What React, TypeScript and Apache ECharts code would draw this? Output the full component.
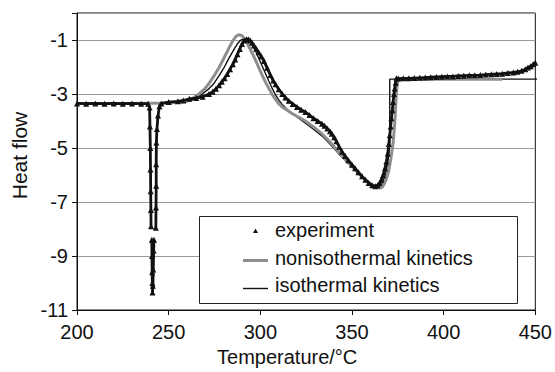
import React, { useEffect, useRef } from 'react';
import * as echarts from 'echarts';

// ---- data ----
const expT = [
  200, 205, 210, 215, 220, 225, 230, 235, 238.8, 239.6, 239.8, 240.0, 240.1, 240.2, 240.3, 240.4,
  240.6, 240.8, 240.9, 241.0, 241.1, 241.2, 241.4, 241.6, 241.8, 242.0, 242.5,
  243.0, 243.1, 243.2, 243.2, 243.3, 243.6, 244.2, 245.0, 246, 250, 255, 258, 261.3, 265, 268.5,
  272, 274, 275.8, 277.5, 279, 280.5, 282, 283.5, 285, 286.3, 287.5, 288.8, 290, 291.2, 292.5,
  293.5, 294.5, 295.5, 296.5, 297.7, 299, 300.5, 302, 303.7, 305.5, 307, 308.3, 310, 312, 313.7,
  315.5, 317.7, 320, 322.3, 324.6, 326.8, 329, 331.3, 333.6, 335, 336.5, 338, 339, 340.3, 341.5,
  343, 344.6, 346.3, 348, 350, 351.7, 353.5, 355.5, 357.3, 359.1, 361, 362.7, 364, 365, 366, 367,
  368, 368.8, 369.5, 370.1, 370.6, 371.1, 371.5, 372, 372.4, 372.9, 373.3, 373.8, 374.2, 375.2,
  378, 381, 384, 387, 390, 393, 396, 399, 402, 405, 408, 411, 414, 417, 420, 423, 426, 429, 432,
  435, 438, 440.2, 442.5, 444.5, 446, 447.5, 448.8, 450,
];
const expHF = [
  -3.35, -3.36, -3.35, -3.36, -3.35, -3.36, -3.35, -3.36, -3.36, -3.5, -4.2, -5.0, -5.8, -6.6, -7.3, -7.9,
  null, -8.4, -9.0, -9.6, -10.0, -10.35, -10.1, -9.5, -8.8, -8.4, null,
  -7.95, -7.2, -6.4, -5.6, -4.8, -4.3, -3.8, -3.45, -3.35, -3.3, -3.27, -3.24, -3.18, -3.15, -3.1,
  -3.0, -2.92, -2.81, -2.68, -2.55, -2.42, -2.26, -2.08, -1.9, -1.72, -1.53, -1.33, -1.15, -1.02, -0.97,
  -0.97, -1.02, -1.1, -1.2, -1.32, -1.45, -1.6, -1.78, -2.03, -2.3, -2.5, -2.64, -2.82, -3.0, -3.13,
  -3.25, -3.37, -3.48, -3.58, -3.67, -3.78, -3.9, -4.0, -4.1, -4.18, -4.28, -4.38, -4.47, -4.6, -4.75,
  -4.95, -5.14, -5.3, -5.45, -5.62, -5.75, -5.9, -6.05, -6.18, -6.3, -6.38, -6.42, -6.38, -6.3, -6.18, -6.0,
  -5.75, -5.5, -5.2, -4.85, -4.53, -4.2, -3.9, -3.6, -3.3, -3.0, -2.8, -2.58, -2.42, -2.43,
  -2.42, -2.42, -2.41, -2.4, -2.39, -2.38, -2.37, -2.36, -2.35, -2.35, -2.33, -2.32, -2.31, -2.31, -2.3, -2.28, -2.27, -2.26, -2.25,
  -2.22, -2.2, -2.18, -2.14, -2.08, -2.02, -1.97, -1.9, -1.84,
];

const noniT = [
  200, 230, 250, 256, 260, 263, 266.7, 269.5, 272.1, 275, 277.6, 280.5, 283, 285, 286.8, 288.4, 290,
  291.5, 293, 294.5, 296, 297.4, 299.2, 301, 302.8, 304.7, 306.5, 308.3, 310, 311.9, 314, 317.3, 321,
  324.6, 329, 333.6, 338, 342.6, 347, 351.7, 356, 360.7, 363, 365.2, 366.5, 367.8, 369, 370, 371.2,
  372.5, 373.3, 373.8, 374.2, 374.8, 375.5, 432,
];
const noniHF = [
  -3.35, -3.35, -3.33, -3.31, -3.26, -3.17, -2.99, -2.82, -2.6, -2.3, -2.01, -1.62, -1.28, -1.03, -0.86, -0.8, -0.84,
  -0.97, -1.13, -1.35, -1.55, -1.75, -2.03, -2.3, -2.56, -2.8, -3.02, -3.2, -3.36, -3.48, -3.57, -3.72, -3.86,
  -4.0, -4.22, -4.47, -4.78, -5.14, -5.48, -5.81, -6.1, -6.36, -6.45, -6.48, -6.45, -6.3, -6.1, -5.85, -5.4,
  -4.77, -4.1, -3.5, -2.94, -2.58, -2.45, -2.45,
];

const isoT = [
  200, 230, 250, 257, 261, 265, 268.5, 271.5, 274.8, 277.5, 280.3, 283, 285.7, 287.5, 289.2, 291, 292.5,
  294, 295.5, 297.3, 299.2, 301, 302.8, 304.6, 306.4, 308.2, 310, 311.8, 313.6, 315.5, 320, 324.6, 329,
  333.6, 338, 342.6, 347, 351.7, 356, 360, 362, 363.5, 365, 366.5, 367.7, 368.7, 369.6, 370.3, 370.6,
  370.6, 452.3,
];
const isoHF = [
  -3.35, -3.35, -3.33, -3.31, -3.27, -3.17, -2.99, -2.83, -2.6, -2.32, -2.01, -1.66, -1.34, -1.14, -1.01, -0.95, -0.95,
  -1.03, -1.17, -1.4, -1.68, -1.96, -2.24, -2.52, -2.78, -3.02, -3.22, -3.38, -3.5, -3.62, -3.85, -4.08, -4.3,
  -4.55, -4.85, -5.2, -5.5, -5.82, -6.1, -6.35, -6.44, -6.47, -6.42, -6.3, -6.1, -5.85, -5.5, -5.1, -4.8,
  -2.45, -2.45,
];

const xAxisRange = { min: 200, max: 450, interval: 50 };
const yAxisRange = { min: -11, max: 0, interval: 2 };
const seriesNames = ['experiment', 'nonisothermal kinetics', 'isothermal kinetics'];
const xTitle = 'Temperature/°C';
const yTitle = 'Heat flow';

const FONT = '"Liberation Sans", Arial, Helvetica, sans-serif';

function zip(t: number[], v: (number | null)[]) {
  return t.map((x, i) => [x, v[i]]);
}

export default function App() {
  const ref = useRef<HTMLDivElement>(null);
  useEffect(() => {
    if (!ref.current) return;
    const chart = echarts.init(ref.current, undefined, { renderer: 'svg' });
    const L = 77, T = 13, W = 461, H = 300.5;
    const Z = 100;
    chart.setOption({
      animation: false,
      backgroundColor: '#fff',
      textStyle: { fontFamily: FONT },
      grid: {
        left: L, top: T, width: W, height: H,
        show: true, borderColor: '#111', borderWidth: 1, backgroundColor: 'transparent',
      },
      xAxis: {
        type: 'value',
        ...xAxisRange,
        name: xTitle,
        nameLocation: 'middle',
        nameGap: 37,
        nameTextStyle: { fontSize: 20, color: '#111', fontFamily: FONT, padding: [0, 38, 0, 0] },
        axisLine: { show: true, onZero: false, lineStyle: { color: '#111', width: 1 } },
        axisTick: { show: true, inside: false, length: 5, lineStyle: { color: '#111' } },
        axisLabel: { fontSize: 20, color: '#111', margin: 12, fontFamily: FONT },
        splitLine: { show: false },
      },
      yAxis: {
        type: 'value',
        ...yAxisRange,
        name: yTitle,
        nameLocation: 'middle',
        nameGap: 44,
        nameRotate: 90,
        nameTextStyle: { fontSize: 21, color: '#111', fontFamily: FONT, padding: [0, 0, 0, 12] },
        axisLine: { show: true, onZero: false, lineStyle: { color: '#111', width: 1 } },
        axisTick: { show: true, inside: false, length: 5, lineStyle: { color: '#111' } },
        axisLabel: {
          fontSize: 20, color: '#111', margin: 9, fontFamily: FONT,
          formatter: (v: number) => (v === 0 ? '' : String(v)),
        },
        splitLine: { show: true, lineStyle: { color: '#9a9a9a', width: 1 } },
      },
      series: [
        {
          name: seriesNames[2],
          type: 'line',
          data: zip(isoT, isoHF),
          showSymbol: false,
          clip: false,
          lineStyle: { color: '#111', width: 1.4 },
          z: 2,
        },
        {
          name: seriesNames[1],
          type: 'line',
          data: zip(noniT, noniHF),
          showSymbol: false,
          lineStyle: { color: '#8e8e8e', width: 3 },
          z: 3,
        },
        {
          name: seriesNames[0],
          type: 'line',
          data: zip(expT, expHF),
          connectNulls: false,
          symbol: 'triangle',
          symbolSize: 6,
          showAllSymbol: true,
          itemStyle: { color: '#111' },
          lineStyle: { color: '#111', width: 2.8 },
          z: 4,
        },
      ],
      graphic: [
        { type: 'rect', z: Z, shape: { x: 199.5, y: 216.5, width: 318, height: 87 }, style: { fill: '#fff', stroke: '#222', lineWidth: 1 } },
        { type: 'polygon', z: Z + 1, shape: { points: [[253, 233], [258, 233], [255.5, 228.5]] }, style: { fill: '#111' } },
        { type: 'text', z: Z + 1, style: { text: seriesNames[0], x: 275, y: 230, font: `20px ${FONT}`, fill: '#111', verticalAlign: 'middle' } },
        { type: 'line', z: Z + 1, shape: { x1: 243, y1: 260.5, x2: 268, y2: 260.5 }, style: { stroke: '#8e8e8e', lineWidth: 3 } },
        { type: 'text', z: Z + 1, style: { text: seriesNames[1], x: 275, y: 257.5, font: `20px ${FONT}`, fill: '#111', verticalAlign: 'middle' } },
        { type: 'line', z: Z + 1, shape: { x1: 243, y1: 288.5, x2: 268, y2: 288.5 }, style: { stroke: '#111', lineWidth: 1.4 } },
        { type: 'text', z: Z + 1, style: { text: seriesNames[2], x: 275, y: 285, font: `20px ${FONT}`, fill: '#111', verticalAlign: 'middle' } },
      ],
    });
    return () => chart.dispose();
  }, []);
  return <div ref={ref} style={{ position: 'fixed', left: 0, top: 0, width: 555, height: 372 }} />;
}
